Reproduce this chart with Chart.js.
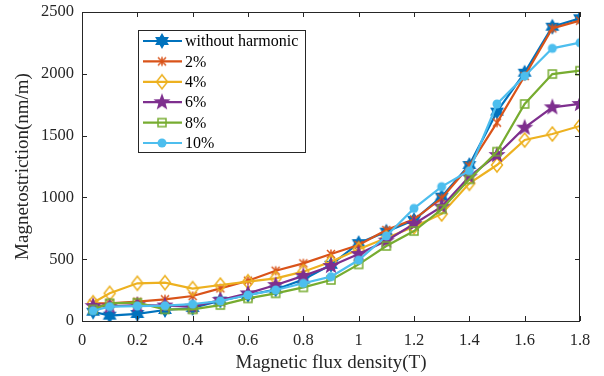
<!DOCTYPE html>
<html>
<head>
<meta charset="utf-8">
<script src="https://cdn.jsdelivr.net/npm/chart.js@4/dist/chart.umd.min.js"></script>
<style>
  body { margin: 0; background: #fff; }
  canvas { display: block; }
</style>
</head>
<body>
<canvas id="chart" width="604" height="376"></canvas>
<script>
const fluxDensity = [0.04, 0.1, 0.2, 0.3, 0.4, 0.5, 0.6, 0.7, 0.8, 0.9, 1.0, 1.1, 1.2, 1.3, 1.4, 1.5, 1.6, 1.7, 1.8];
const withoutHarmonic = [75, 43, 57, 89, 105, 165, 210, 255, 335, 455, 630, 723, 817, 1006, 1262, 1694, 2009, 2381, 2449];
const harm2 = [143, 143, 156, 175, 202, 264, 326, 407, 466, 542, 615, 736, 823, 993, 1254, 1605, 1982, 2368, 2430];
const harm4 = [148, 224, 305, 310, 262, 291, 318, 345, 399, 480, 580, 672, 763, 866, 1114, 1262, 1464, 1513, 1578];
const harm6 = [121, 118, 129, 125, 116, 170, 224, 291, 365, 445, 542, 650, 785, 925, 1168, 1343, 1564, 1729, 1756];
const harm8 = [94, 143, 148, 94, 94, 129, 183, 224, 272, 332, 458, 607, 728, 904, 1146, 1370, 1756, 1998, 2025];
const harm10 = [83, 116, 121, 124, 137, 162, 210, 251, 305, 359, 493, 688, 911, 1087, 1216, 1756, 1982, 2206, 2252];
const seriesNames = ['without harmonic', '2%', '4%', '6%', '8%', '10%'];
const xTicks = [0, 0.2, 0.4, 0.6, 0.8, 1, 1.2, 1.4, 1.6, 1.8];
const yTicks = [0, 500, 1000, 1500, 2000, 2500];

const colors = ['#0072BD', '#D95319', '#EDB120', '#7E2F8E', '#77AC30', '#4DBEEE'];
const kinds = ['hexagram', 'asterisk', 'diamond', 'pentagram', 'square', 'circle'];
const FONT = "'Liberation Serif', 'Times New Roman', serif";

function starPath(g, cx, cy, n, R, r) {
  g.beginPath();
  for (let i = 0; i < n * 2; i++) {
    const a = -Math.PI / 2 + i * Math.PI / n;
    const rad = i % 2 === 0 ? R : r;
    g.lineTo(cx + rad * Math.cos(a), cy + rad * Math.sin(a));
  }
  g.closePath();
}

function makeMarker(kind, color) {
  const c = document.createElement('canvas');
  c.width = c.height = 20;
  const g = c.getContext('2d');
  g.fillStyle = color;
  g.strokeStyle = color;
  g.lineWidth = 1.5;
  const m = 10;
  if (kind === 'hexagram') {
    starPath(g, m, m, 6, 8, 4.6);
    g.fill();
  } else if (kind === 'pentagram') {
    starPath(g, m, m, 5, 9, 3.8);
    g.fill();
  } else if (kind === 'diamond') {
    g.beginPath();
    g.moveTo(m, m - 7); g.lineTo(m + 5.5, m); g.lineTo(m, m + 7); g.lineTo(m - 5.5, m);
    g.closePath();
    g.stroke();
  } else if (kind === 'square') {
    g.strokeRect(m - 4, m - 4, 8, 8);
  } else if (kind === 'circle') {
    g.beginPath();
    g.arc(m, m, 4.5, 0, Math.PI * 2);
    g.fill();
  } else {
    g.beginPath();
    g.moveTo(m - 4, m - 4); g.lineTo(m + 4, m + 4);
    g.moveTo(m + 4, m - 4); g.lineTo(m - 4, m + 4);
    g.moveTo(m, m - 4.5); g.lineTo(m, m + 4.5);
    g.stroke();
  }
  return c;
}

const markers = kinds.map((k, i) => makeMarker(k, colors[i]));
const values = [withoutHarmonic, harm2, harm4, harm6, harm8, harm10];

const datasets = values.map((vals, i) => ({
  label: seriesNames[i],
  data: fluxDensity.map((x, j) => ({ x, y: vals[j] })),
  borderColor: colors[i],
  backgroundColor: colors[i],
  borderWidth: 2.2,
  pointStyle: markers[i],
  pointRadius: 6,
  tension: 0,
  order: 5 - i
}));

const axesFrame = {
  id: 'axesFrame',
  afterDraw(chart) {
    const { ctx, chartArea: a, scales } = chart;
    ctx.save();
    ctx.strokeStyle = '#262626';
    ctx.lineWidth = 1;
    ctx.strokeRect(a.left + 0.5, a.top + 0.5, a.right - a.left - 1, a.bottom - a.top);
    ctx.beginPath();
    xTicks.forEach((v) => {
      const px = Math.round(scales.x.getPixelForValue(v)) + 0.5;
      ctx.moveTo(px, a.bottom); ctx.lineTo(px, a.bottom - 5);
      ctx.moveTo(px, a.top); ctx.lineTo(px, a.top + 5);
    });
    yTicks.forEach((v) => {
      const py = Math.round(scales.y.getPixelForValue(v)) + 0.5;
      ctx.moveTo(a.left, py); ctx.lineTo(a.left + 5, py);
      ctx.moveTo(a.right, py); ctx.lineTo(a.right - 5, py);
    });
    ctx.stroke();

    // legend box, MATLAB style, inside the axes
    const bx = 138.5, by = 30.5, bw = 167, bh = 122;
    ctx.fillStyle = '#fff';
    ctx.fillRect(bx, by, bw, bh);
    ctx.strokeStyle = '#262626';
    ctx.strokeRect(bx, by, bw, bh);
    ctx.font = '16px ' + FONT;
    ctx.textBaseline = 'middle';
    seriesNames.forEach((name, i) => {
      const ry = 41 + i * 20.4;
      ctx.strokeStyle = colors[i];
      ctx.lineWidth = 2.2;
      ctx.beginPath();
      ctx.moveTo(143, ry); ctx.lineTo(182, ry);
      ctx.stroke();
      ctx.drawImage(markers[i], 162 - 10, ry - 10);
      ctx.fillStyle = '#000';
      ctx.fillText(name, 185, ry + 1);
    });
    ctx.restore();
  }
};

new Chart(document.getElementById('chart'), {
  type: 'line',
  data: { datasets },
  options: {
    responsive: false,
    animation: false,
    layout: { padding: { top: 12, right: 24, left: 0, bottom: 0 } },
    plugins: { legend: { display: false }, tooltip: { enabled: false } },
    scales: {
      x: {
        type: 'linear',
        min: 0,
        max: 1.8,
        afterFit: (s) => { s.height = 55; },
        afterBuildTicks: (s) => { s.ticks = xTicks.map((v) => ({ value: v })); },
        grid: { display: false },
        border: { display: false },
        ticks: {
          color: '#262626',
          font: { family: FONT, size: 16.5 },
          padding: 2,
          maxRotation: 0,
          callback: (v) => String(parseFloat(v.toFixed(1)))
        },
        title: {
          display: true,
          text: 'Magnetic flux density(T)',
          color: '#262626',
          font: { family: FONT, size: 19 },
          padding: { top: 0, bottom: 2 }
        }
      },
      y: {
        min: 0,
        max: 2500,
        afterFit: (s) => { s.width = 82; },
        afterBuildTicks: (s) => { s.ticks = yTicks.map((v) => ({ value: v })); },
        grid: { display: false },
        border: { display: false },
        ticks: {
          color: '#262626',
          font: { family: FONT, size: 16.5 },
          padding: 0,
          callback: (v) => String(v)
        },
        title: {
          display: true,
          text: 'Magnetostriction(nm/m)',
          color: '#262626',
          font: { family: FONT, size: 19 },
          padding: { top: 12, bottom: 0 }
        }
      }
    }
  },
  plugins: [axesFrame]
});
</script>
</body>
</html>
